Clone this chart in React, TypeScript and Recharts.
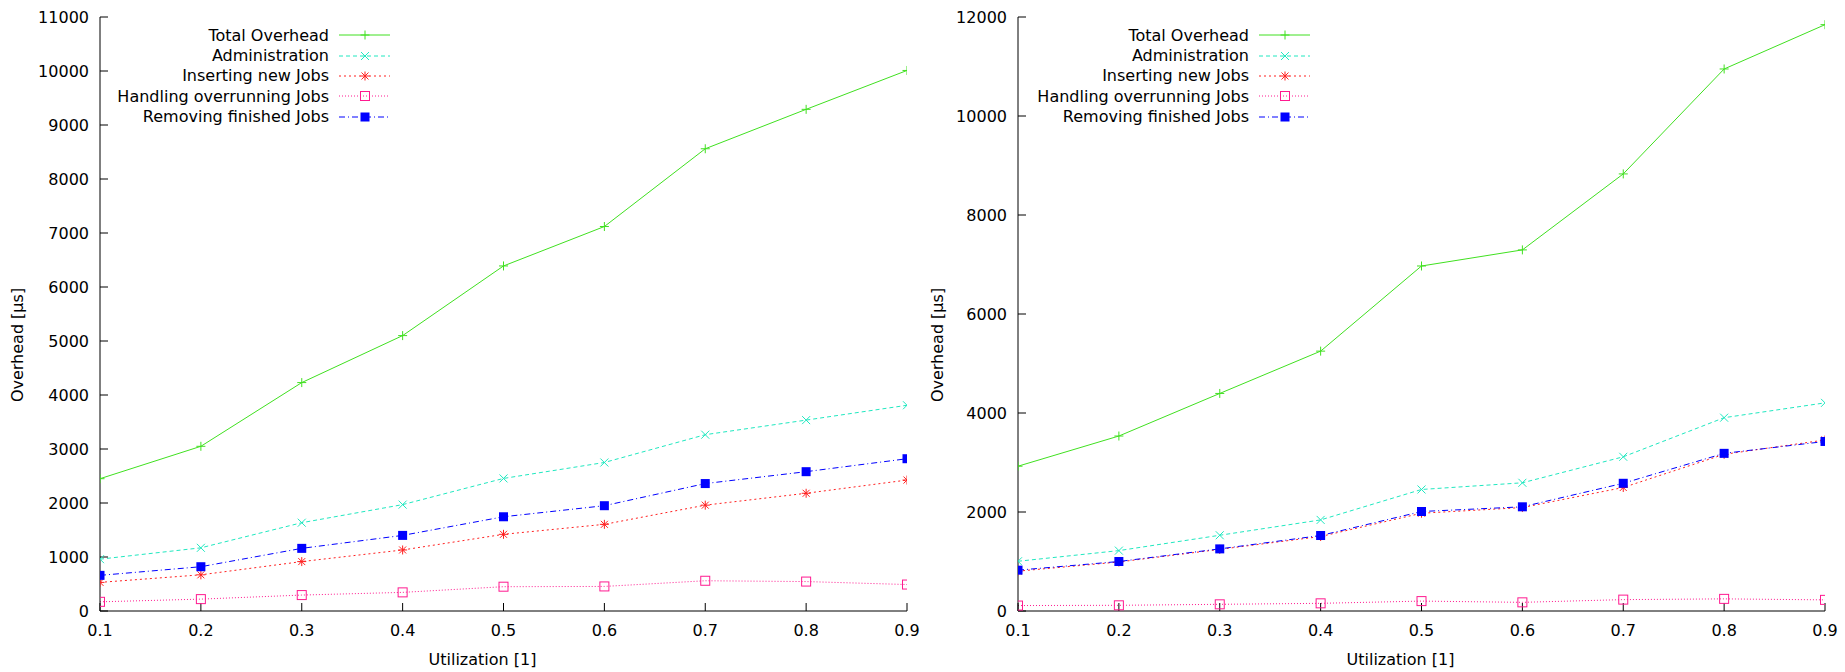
import React from "react";
import { LineChart, Line, XAxis, YAxis, Legend } from "recharts";

const FONT = "'DejaVu Sans', sans-serif";

const utilization = [0.1, 0.2, 0.3, 0.4, 0.5, 0.6, 0.7, 0.8, 0.9];

// left panel (µs)
const leftTotal = [2450, 3050, 4230, 5100, 6390, 7120, 8560, 9290, 10010];
const leftAdmin = [960, 1170, 1635, 1970, 2455, 2750, 3265, 3535, 3810];
const leftInsert = [530, 670, 915, 1130, 1420, 1605, 1960, 2180, 2425];
const leftOverrun = [170, 220, 295, 345, 450, 455, 560, 545, 490];
const leftRemove = [660, 820, 1160, 1400, 1745, 1950, 2360, 2580, 2820];
const leftYTicks = [0, 1000, 2000, 3000, 4000, 5000, 6000, 7000, 8000, 9000, 10000, 11000];

// right panel (µs)
const rightTotal = [2925, 3535, 4395, 5250, 6970, 7295, 8830, 10950, 11845];
const rightAdmin = [1005, 1220, 1530, 1840, 2455, 2590, 3115, 3905, 4205];
const rightInsert = [805, 990, 1245, 1505, 1975, 2090, 2495, 3165, 3455];
const rightOverrun = [110, 115, 135, 155, 200, 175, 230, 245, 225];
const rightRemove = [825, 1000, 1255, 1525, 2010, 2105, 2580, 3185, 3425];
const rightYTicks = [0, 2000, 4000, 6000, 8000, 10000, 12000];

const seriesNames = [
  "Total Overhead",
  "Administration",
  "Inserting new Jobs",
  "Handling overrunning Jobs",
  "Removing finished Jobs"
];

type Shape = "plus" | "cross" | "star" | "box" | "boxFilled";

const seriesStyle: { key: string; color: string; dash?: string; shape: Shape }[] = [
  { key: "total", color: "#40e020", shape: "plus" },
  { key: "admin", color: "#20e8c0", dash: "4 3", shape: "cross" },
  { key: "insert", color: "#ff2020", dash: "2 3", shape: "star" },
  { key: "overrun", color: "#ff1a90", dash: "1 2", shape: "box" },
  { key: "remove", color: "#0000ff", dash: "6 3 1 3", shape: "boxFilled" }
];

function buildRows(cols: number[][]) {
  return utilization.map((u, i) => ({
    u,
    total: cols[0][i],
    admin: cols[1][i],
    insert: cols[2][i],
    overrun: cols[3][i],
    remove: cols[4][i]
  }));
}

const leftRows = buildRows([leftTotal, leftAdmin, leftInsert, leftOverrun, leftRemove]);
const rightRows = buildRows([rightTotal, rightAdmin, rightInsert, rightOverrun, rightRemove]);

function Marker({ cx, cy, color, shape }: { cx: number; cy: number; color: string; shape: Shape }) {
  const s = 4.5;
  if (cx == null || cy == null) return null;
  switch (shape) {
    case "plus":
      return (
        <g stroke={color} strokeWidth={1}>
          <line x1={cx - s} x2={cx + s} y1={cy} y2={cy} />
          <line x1={cx} x2={cx} y1={cy - s} y2={cy + s} />
        </g>
      );
    case "cross":
      return (
        <g stroke={color} strokeWidth={1}>
          <line x1={cx - 4} x2={cx + 4} y1={cy - 4} y2={cy + 4} />
          <line x1={cx - 4} x2={cx + 4} y1={cy + 4} y2={cy - 4} />
        </g>
      );
    case "star":
      return (
        <g stroke={color} strokeWidth={1}>
          <line x1={cx - s} x2={cx + s} y1={cy} y2={cy} />
          <line x1={cx} x2={cx} y1={cy - s} y2={cy + s} />
          <line x1={cx - 3.5} x2={cx + 3.5} y1={cy - 3.5} y2={cy + 3.5} />
          <line x1={cx - 3.5} x2={cx + 3.5} y1={cy + 3.5} y2={cy - 3.5} />
        </g>
      );
    case "box":
      return <rect x={cx - s} y={cy - s} width={9} height={9} fill="none" stroke={color} strokeWidth={1} />;
    default:
      return <rect x={cx - s} y={cy - s} width={9} height={9} fill={color} />;
  }
}

function GnuLegend() {
  return (
    <div style={{ fontFamily: FONT, fontSize: 16, color: "#000" }}>
      {seriesStyle.map((s, i) => (
        <div key={s.key} style={{ display: "flex", alignItems: "center", height: 20.4 }}>
          <span style={{ width: 229, textAlign: "right", whiteSpace: "nowrap" }}>{seriesNames[i]}</span>
          <svg width={62} height={20} style={{ display: "block" }}>
            <line x1={10} x2={61} y1={10} y2={10} stroke={s.color} strokeDasharray={s.dash} />
            <Marker cx={36} cy={10} color={s.color} shape={s.shape} />
          </svg>
        </div>
      ))}
    </div>
  );
}

const tickStyle = { fill: "#000", fontSize: 16, fontFamily: FONT };
const black = { stroke: "#000", strokeWidth: 1 };

function yTitle(props: any) {
  const vb = props.viewBox;
  const x = vb.x + 17;
  const y = vb.y + vb.height / 2 + 31;
  return (
    <text
      x={x}
      y={y}
      transform={`rotate(-90 ${x} ${y})`}
      textAnchor="middle"
      dominantBaseline="central"
      fontFamily={FONT}
      fontSize={16}
      fill="#000"
    >
      Overhead [µs]
    </text>
  );
}

function xTitle(props: any) {
  const vb = props.viewBox;
  return (
    <text
      x={vb.x + vb.width / 2 - 21}
      y={vb.y + 54}
      textAnchor="middle"
      fontFamily={FONT}
      fontSize={16}
      fill="#000"
    >
      Utilization [1]
    </text>
  );
}

function Panel({
  rows,
  yMax,
  yTicks,
  width,
  axisWidth,
  rightMargin
}: {
  rows: any[];
  yMax: number;
  yTicks: number[];
  width: number;
  axisWidth: number;
  rightMargin: number;
}) {
  return (
    <LineChart width={width} height={672} data={rows} margin={{ top: 17, right: rightMargin, left: 0, bottom: 0 }}>
      <XAxis
        dataKey="u"
        type="number"
        domain={[0.1, 0.9]}
        ticks={utilization}
        interval={0}
        allowDataOverflow
        height={61}
        tickSize={-8}
        tickMargin={22}
        tick={tickStyle}
        tickLine={black}
        axisLine={black}
        tickFormatter={(v: number) => v.toFixed(1)}
        label={xTitle}
      />
      <XAxis
        xAxisId="top"
        orientation="top"
        dataKey="u"
        type="number"
        domain={[0.1, 0.9]}
        ticks={utilization}
        interval={0}
        allowDataOverflow
        height={0}
        tickSize={-8}
        tickLine={black}
        axisLine={black}
        tickFormatter={() => ""}
      />
      <YAxis
        type="number"
        domain={[0, yMax]}
        ticks={yTicks}
        interval={0}
        allowDataOverflow
        width={axisWidth}
        tickSize={-8}
        tickMargin={19}
        tick={tickStyle}
        tickLine={black}
        axisLine={black}
        label={yTitle}
      />
      <YAxis
        yAxisId="right"
        orientation="right"
        type="number"
        domain={[0, yMax]}
        ticks={yTicks}
        interval={0}
        allowDataOverflow
        width={0}
        tickSize={-8}
        tickLine={black}
        axisLine={black}
        tickFormatter={() => ""}
      />
      <Legend
        layout="vertical"
        align="center"
        verticalAlign="middle"
        content={<GnuLegend />}
        wrapperStyle={{ left: 100, top: 25, width: 300 }}
      />
      {seriesStyle.map((s, i) => (
        <Line
          key={s.key}
          dataKey={s.key}
          name={seriesNames[i]}
          type="linear"
          stroke={s.color}
          strokeWidth={1}
          strokeDasharray={s.dash}
          isAnimationActive={false}
          activeDot={false}
          dot={(p: any) => (
            <Marker key={`${s.key}-${p.index}`} cx={p.cx} cy={p.cy} color={s.color} shape={s.shape} />
          )}
        />
      ))}
    </LineChart>
  );
}

export default function App() {
  return (
    <div
      style={{
        position: "absolute",
        left: 0,
        top: 0,
        width: 1845,
        height: 672,
        background: "#fff",
        fontFamily: FONT
      }}
    >
      <div style={{ position: "absolute", left: 0, top: 0 }}>
        <Panel rows={leftRows} yMax={11000} yTicks={leftYTicks} width={920} axisWidth={100} rightMargin={13} />
      </div>
      <div style={{ position: "absolute", left: 920, top: 0 }}>
        <Panel rows={rightRows} yMax={12000} yTicks={rightYTicks} width={925} axisWidth={98} rightMargin={20} />
      </div>
    </div>
  );
}
